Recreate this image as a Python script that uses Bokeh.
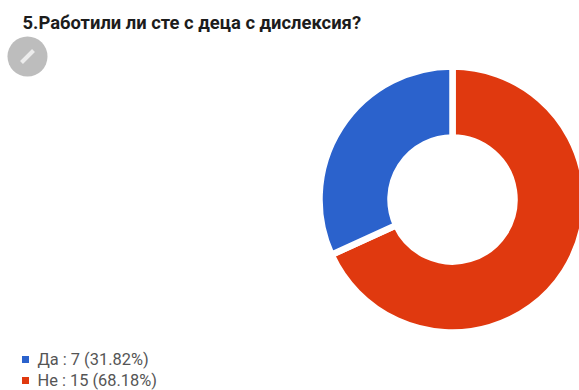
import math
from bokeh.embed import file_html
from bokeh.resources import INLINE
from bokeh.plotting import figure
from bokeh.models import Range1d
from bokeh.core.properties import value

# Survey question and answers
title_text = "5.Работили ли сте с деца с дислексия?"
categories = ["Да", "Не"]
counts = [7, 15]
percents = ["31.82%", "68.18%"]
colors = ["#2b62cc", "#e0390f"]

W, H = 579, 390
FONT = "Roboto"


def top(y):
    """Distance from the top edge converted to the upward y range."""
    return H - y


p = figure(width=W, height=H, output_backend="svg", toolbar_location=None,
           x_range=Range1d(0, W), y_range=Range1d(0, H), min_border=0)
p.xaxis.visible = False
p.yaxis.visible = False
p.grid.visible = False
p.outline_line_color = None
p.background_fill_color = "#ffffff"
p.border_fill_color = "#ffffff"

# Donut: the second answer runs clockwise from twelve o'clock, the first closes the ring.
# The thick white stroke forms the gaps between the slices.
total = sum(counts)
cx, cy, r_in, r_out = 452, top(199), 62, 133
angle = math.pi / 2
for i in (1, 0):
    sweep = 2 * math.pi * counts[i] / total
    p.annular_wedge(x=[cx], y=[cy], inner_radius=r_in, outer_radius=r_out,
                    start_angle=angle, end_angle=angle - sweep, direction="clock",
                    fill_color=colors[i], line_color="#ffffff", line_width=6.5)
    angle -= sweep

# Title
p.text(x=[22], y=[top(22)], text=[title_text], text_font=value(FONT),
       text_font_style="bold", text_font_size="18.4px", text_color="#1c1c1c",
       text_baseline="middle", text_align="left")

# Avatar placeholder with a pencil stroke
p.circle(x=[27], y=[top(56)], radius=20, fill_color="#bdbdbd", line_color=None)
p.line(x=[21, 33], y=[top(62), top(50)], line_color="#ececec", line_width=4)

# Legend
rows = [359, 380]
for row, name, n, pct, col in zip(rows, categories, counts, percents, colors):
    p.scatter(x=[25], y=[top(row)], size=7, marker="square",
              fill_color=col, line_color=None)
    p.text(x=[37], y=[top(row)], text=[f"{name} : {n} ({pct})"], text_font=value(FONT),
           text_font_size="16.4px", text_color="#555555",
           text_baseline="middle", text_align="left")

open("out.html", "w").write(file_html(p, INLINE))
